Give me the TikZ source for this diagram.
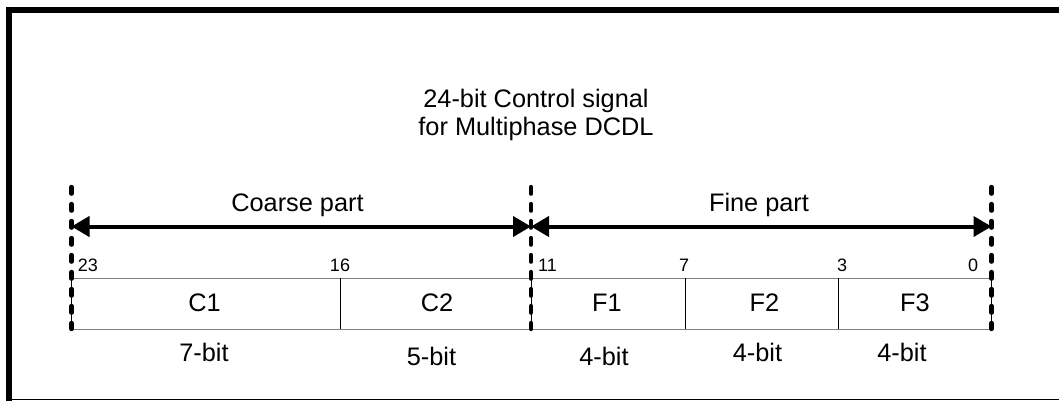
\documentclass[tikz,border=0pt]{standalone}
\usepackage{fontspec}
\setmainfont{Liberation Sans}
\usetikzlibrary{arrows.meta}
\tikzset{
  bound/.style={line width=3.2pt,dash pattern=on 5pt off 7.75pt,line cap=round},
  span/.style={line width=3pt,{Triangle[length=13.5pt,width=15pt]}-{Triangle[length=13.5pt,width=15pt]}},
  edge/.style={line width=0.75pt,black!50},
  divider/.style={line width=0.75pt},
  field/.style={inner sep=0pt,anchor=base,font=\fontsize{19}{21}\selectfont},
  bitno/.style={inner sep=0pt,anchor=base,font=\fontsize{13.5}{15}\selectfont},
}
\begin{document}
\begin{tikzpicture}[x=0.75pt,y=-0.75pt]
\useasboundingbox (0,0) rectangle (1059,401);
\draw[line width=4.5pt] (9,401) -- (9,10.3) -- (1059,10.3);
\draw[line width=0.75pt] (9,399.5) -- (1059,399.5);
\node[inner sep=0pt,align=center,font=\fontsize{19}{21}\selectfont] (title) at (536,114.6) {24-bit Control signal\\for Multiphase DCDL};
\foreach \x/\n in {71.5/23,531/11,991.5/0}{
  \coordinate (t\n) at (\x,187);
  \coordinate (m\n) at (\x,226.5);
  \coordinate (u\n) at (\x,278);
  \coordinate (b\n) at (\x,329);
}
\coordinate (u16) at (340.7,278);
\coordinate (b16) at (340.7,329);
\coordinate (u7) at (685.3,278);
\coordinate (b7) at (685.3,329);
\coordinate (u3) at (838.3,278);
\coordinate (b3) at (838.3,329);
\draw[edge] (u23) -- (u0);
\draw[edge] (b23) -- (b0);
\draw[divider] (u23) -- (b23);
\draw[divider] (u16) -- (b16);
\draw[divider] (u11) -- (b11);
\draw[divider] (u7) -- (b7);
\draw[divider] (u3) -- (b3);
\draw[divider] (u0) -- (b0);
\draw[bound] (t23) -- (b23);
\draw[bound] (t11) -- (b11);
\draw[bound] (t0) -- (b0);
\draw[span] (m23) -- (m11);
\draw[span] (m11) -- (m0);
\node[field] (coarse) at (297.5,211.7) {Coarse part};
\node[field] (fine) at (759,211.7) {Fine part};
\node[bitno] (n23) at (88,271) {23};
\node[bitno] (n16) at (340,271) {16};
\node[bitno] (n11) at (547.5,271) {11};
\node[bitno] (n7) at (684,271) {7};
\node[bitno] (n3) at (842,271) {3};
\node[bitno] (n0) at (973,271) {0};
\node[field] (c1) at (204.5,311.7) {C1};
\node[field] (c2) at (437,311.7) {C2};
\node[field] (f1) at (607,311.7) {F1};
\node[field] (f2) at (764.5,311.7) {F2};
\node[field] (f3) at (915,311.7) {F3};
\node[field] (w1) at (204,361) {7-bit};
\node[field] (w2) at (431.5,365) {5-bit};
\node[field] (w3) at (604,365) {4-bit};
\node[field] (w4) at (757.5,361) {4-bit};
\node[field] (w5) at (902,361) {4-bit};
\end{tikzpicture}
\end{document}
